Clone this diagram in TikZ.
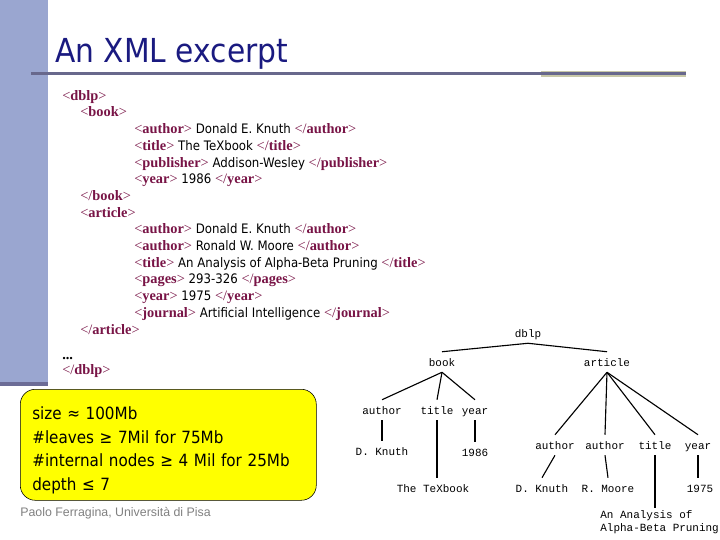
\documentclass[tikz,border=0pt]{standalone}
\usepackage{fontspec}
\setmainfont{DejaVu Sans}[FakeStretch=0.9]
\newfontfamily\tagfont{Liberation Serif}[Scale=1.1]
\newfontfamily\treefont{Liberation Mono}
\newfontfamily\footfont{Liberation Sans}
\usetikzlibrary{positioning}

\definecolor{barblue}{RGB}{154,166,208}
\definecolor{bardark}{RGB}{108,108,150}
\definecolor{ruleblue}{RGB}{104,104,140}
\definecolor{rulekhaki}{RGB}{200,200,168}
\definecolor{titleblue}{RGB}{26,26,128}
\definecolor{tagred}{RGB}{120,20,70}
\definecolor{statyellow}{RGB}{255,255,0}

\newcommand{\otag}[1]{{\tagfont\color{tagred}<\textbf{#1}>}}
\newcommand{\ctag}[1]{{\tagfont\color{tagred}</\textbf{#1}>}}
\newcommand{\indA}{\hspace*{0.45cm}}
\newcommand{\indB}{\hspace*{1.8cm}}

\tikzset{
  treelabel/.style={font=\treefont\fontsize{7.8}{8.8}\selectfont, inner sep=1.5pt,
    text height=1.6ex, text depth=0.45ex},
  treeedge/.style={line width=0.8pt},
  leafedge/.style={line width=1.8pt},
  statbox/.style={draw=black, fill=statyellow, rounded corners=0.375cm,
    anchor=north west, align=left, text width=6.8cm, inner xsep=0.3cm,
    minimum height=2.775cm, font=\fontsize{12}{16.7}\selectfont}
}

\begin{document}
\begin{tikzpicture}
\useasboundingbox (0,0) rectangle (18,-13.5);
% side bar and title rule
\fill[barblue] (0,0) rectangle (1.2,-9.55);
\fill[bardark] (0,-9.55) rectangle (1.2,-9.65);
\fill[rulekhaki] (13.525,-1.775) rectangle (17.15,-1.925);
\draw[ruleblue, line width=2.1pt] (0.775,-1.8375) -- (17.15,-1.8375);
\node[anchor=base west, inner sep=0, text=titleblue, font=\fontsize{23.5}{28}\selectfont] (title) at (1.375,-1.55) {An XML excerpt};

% the XML text
\node[anchor=north west, inner sep=0, align=left, font=\fontsize{9.3}{11.88}\selectfont] (xml) at (1.55,-2.25) {
\otag{dblp}\\
\indA\otag{book}\\
\indB\otag{author} Donald E. Knuth \ctag{author}\\
\indB\otag{title} The TeXbook \ctag{title}\\
\indB\otag{publisher} Addison-Wesley \ctag{publisher}\\
\indB\otag{year} 1986 \ctag{year}\\
\indA\ctag{book}\\
\indA\otag{article}\\
\indB\otag{author} Donald E. Knuth \ctag{author}\\
\indB\otag{author} Ronald W. Moore \ctag{author}\\
\indB\otag{title} An Analysis of Alpha-Beta Pruning \ctag{title}\\
\indB\otag{pages} 293-326 \ctag{pages}\\
\indB\otag{year} 1975 \ctag{year}\\
\indB\otag{journal} Artificial Intelligence \ctag{journal}\\
\indA\ctag{article}\\[6pt]
{\tagfont\textbf{...}}\\[-1.3pt]
\ctag{dblp}};

% statistics
\node[statbox] (stats) at (0.5,-9.725) {\rule{0pt}{17pt}size ≈ 100Mb\\ \#leaves ≥ 7Mil for 75Mb\\ \#internal nodes ≥ 4 Mil for 25Mb\\ depth ≤ 7};
\node[anchor=base west, inner sep=0, text=gray, font=\footfont\fontsize{8.8}{10}\selectfont] (foot) at (0.5,-12.92) {Paolo Ferragina, Università di Pisa};

% the tree
\node[treelabel] (dblp) at (13.2,-8.325) {dblp};
\node[treelabel] (book) at (11.05,-9.05) {book};
\node[treelabel] (article) at (15.175,-9.05) {article};
\node[treelabel] (bauthor) at (9.55,-10.25) {author};
\node[treelabel] (btitle) at (10.925,-10.25) {title};
\node[treelabel] (byear) at (11.875,-10.25) {year};
\node[treelabel] (bknuth) at (9.55,-11.275) {D. Knuth};
\node[treelabel] (btex) at (10.825,-12.2) {The TeXbook};
\node[treelabel] (b1986) at (11.875,-11.3) {1986};
\node[treelabel] (aauthor) at (13.875,-11.125) {author};
\node[treelabel] (aauthorb) at (15.125,-11.125) {author};
\node[treelabel] (atitle) at (16.375,-11.125) {title};
\node[treelabel] (ayear) at (17.45,-11.125) {year};
\node[treelabel] (aknuth) at (13.55,-12.2) {D. Knuth};
\node[treelabel] (amoore) at (15.2,-12.2) {R. Moore};
\node[treelabel, align=left, text height=, text depth=] (aanalysis) at (16.49,-13.05) {An Analysis of\\Alpha-Beta Pruning};
\node[treelabel] (a1975) at (17.5,-12.2) {1975};

\draw[treeedge] (book.north) -- (dblp.south) -- (article.north);
\draw[treeedge] (book.south) -- (bauthor.north);
\draw[treeedge] (book.south) -- (btitle.north);
\draw[treeedge] (book.south) -- (byear.north);
\draw[treeedge] (bauthor.south) -- (bknuth.north);
\draw[leafedge] (btitle.south) -- (btitle.south |- btex.north);
\draw[leafedge] (byear.south) -- (b1986.north);
\draw[treeedge] (article.south) -- (aauthor.north);
\draw[treeedge] (article.south) -- (aauthorb.north);
\draw[treeedge] (article.south) -- (atitle.north);
\draw[treeedge] (article.south) -- (ayear.north);
\draw[treeedge] (aauthor.south) -- (aknuth.north);
\draw[treeedge] (aauthorb.south) -- (amoore.north);
\draw[leafedge] (atitle.south) -- (atitle.south |- aanalysis.north);
\draw[leafedge] (ayear.south) -- (ayear.south |- a1975.north);
\end{tikzpicture}
\end{document}
